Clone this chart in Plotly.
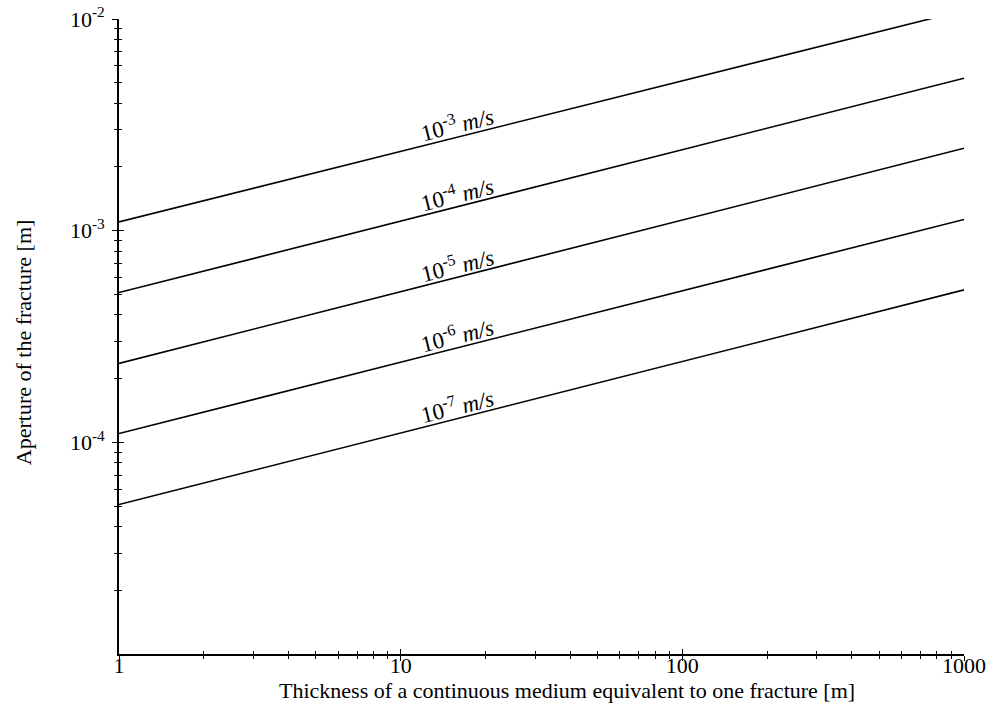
import math
import plotly.graph_objects as go

# Equivalent hydraulic conductivity of each line
conductivity_exp = [-3, -4, -5, -6, -7]
# Thickness of the equivalent continuous medium [m] at the ends of each line
thickness_start = [1, 1, 1, 1, 1]
thickness_end = [800, 1000, 1000, 1000, 1000]
# Fracture aperture [m] at the ends of each line
aperture_start = [1.1e-3, 5.1e-4, 2.36e-4, 1.1e-4, 5.08e-5]
aperture_end = [1.02e-2, 5.25e-3, 2.45e-3, 1.13e-3, 5.25e-4]
# Thickness at which each line is labelled
label_thickness = 16

# Axis ticks
x_tickvals = [1, 10, 100, 1000]
x_ticktext = ["1", "10", "100", "1000"]
y_tickvals = [1e-4, 1e-3, 1e-2]
y_ticktext = ["10<sup>-4</sup>", "10<sup>-3</sup>", "10<sup>-2</sup>"]
minor_multiples = [2, 3, 4, 5, 6, 7, 8, 9]
x_decades = [1, 10, 100]
y_decades = [1e-5, 1e-4, 1e-3]

x_title = "Thickness of a continuous medium equivalent to one fracture [m]"
y_title = "Aperture of the fracture [m]"

FONT = "Liberation Serif"
FS = 22

x_minor = [m * d for d in x_decades for m in minor_multiples]
y_minor = [m * d for d in y_decades for m in minor_multiples]

fig = go.Figure()

for i, k in enumerate(conductivity_exp):
    fig.add_trace(go.Scatter(
        x=[thickness_start[i], thickness_end[i]],
        y=[aperture_start[i], aperture_end[i]],
        mode="lines",
        line=dict(color="black", width=1.6),
        showlegend=False,
        hoverinfo="skip",
    ))
    # position of the label on the line (straight in log-log space)
    lx0, lx1 = math.log10(thickness_start[i]), math.log10(thickness_end[i])
    ly0, ly1 = math.log10(aperture_start[i]), math.log10(aperture_end[i])
    lx = math.log10(label_thickness)
    ly = ly0 + (ly1 - ly0) * (lx - lx0) / (lx1 - lx0)
    fig.add_annotation(
        x=lx, y=ly, xref="x", yref="y",
        text=f"10<sup>{k}</sup> <i>m/s</i>",
        showarrow=False, textangle=-14,
        yshift=13, xshift=-1,
        font=dict(family=FONT, size=23, color="black"),
    )

# axis titles
fig.add_annotation(
    x=0.530, y=0, xref="paper", yref="paper", yshift=-51,
    xanchor="center", yanchor="bottom", showarrow=False,
    text=x_title, font=dict(family=FONT, size=FS, color="black"),
)
fig.add_annotation(
    x=0, y=0.491, xref="paper", yref="paper", xshift=-96,
    xanchor="center", yanchor="middle", showarrow=False, textangle=-90,
    text=y_title, font=dict(family=FONT, size=FS, color="black"),
)

# invisible traces so the overlay axes (inside half of the crossing ticks) are drawn
fig.add_trace(go.Scatter(x=[1, 1000], y=[1e-5, 1e-2], xaxis="x2", yaxis="y",
                         mode="lines", line=dict(width=0), showlegend=False, hoverinfo="skip"))
fig.add_trace(go.Scatter(x=[1, 1000], y=[1e-5, 1e-2], xaxis="x", yaxis="y2",
                         mode="lines", line=dict(width=0), showlegend=False, hoverinfo="skip"))

axis_common = dict(
    type="log", showgrid=False, zeroline=False, automargin=False,
    showline=True, linecolor="black", linewidth=1.6,
    tickcolor="black", tickwidth=1.2,
    tickfont=dict(family=FONT, size=FS, color="black"),
)

fig.update_layout(
    width=994, height=706,
    margin=dict(l=119, r=30, t=19, b=52),
    paper_bgcolor="white", plot_bgcolor="white",
    font=dict(family=FONT, size=FS, color="black"),
    xaxis=dict(
        **axis_common, range=[0, 3],
        tickmode="array", tickvals=x_tickvals, ticktext=x_ticktext,
        ticks="outside", ticklen=5, ticklabelstandoff=-14,
        minor=dict(tickmode="array", tickvals=x_minor, ticks="outside",
                   ticklen=3, tickcolor="black", tickwidth=1, showgrid=False),
    ),
    yaxis=dict(
        **axis_common, range=[-5, -2],
        tickmode="array", tickvals=y_tickvals, ticktext=y_ticktext,
        ticks="outside", ticklen=5, ticklabelstandoff=3,
        minor=dict(tickmode="array", tickvals=y_minor, ticks="outside",
                   ticklen=3, tickcolor="black", tickwidth=1, showgrid=False),
    ),
    xaxis2=dict(
        type="log", range=[0, 3], overlaying="x", anchor="y", side="bottom",
        automargin=False,
        showgrid=False, zeroline=False, showline=False, showticklabels=False,
        tickmode="array", tickvals=x_tickvals, ticks="inside", ticklen=5,
        tickcolor="black", tickwidth=1.2,
        minor=dict(tickmode="array", tickvals=x_minor, ticks="inside",
                   ticklen=3, tickcolor="black", tickwidth=1, showgrid=False),
    ),
    yaxis2=dict(
        type="log", range=[-5, -2], overlaying="y", anchor="x", side="left",
        automargin=False,
        showgrid=False, zeroline=False, showline=False, showticklabels=False,
        tickmode="array", tickvals=y_tickvals, ticks="inside", ticklen=5,
        tickcolor="black", tickwidth=1.2,
        minor=dict(tickmode="array", tickvals=y_minor, ticks="inside",
                   ticklen=3, tickcolor="black", tickwidth=1, showgrid=False),
    ),
)

fig.write_html("out.html")
